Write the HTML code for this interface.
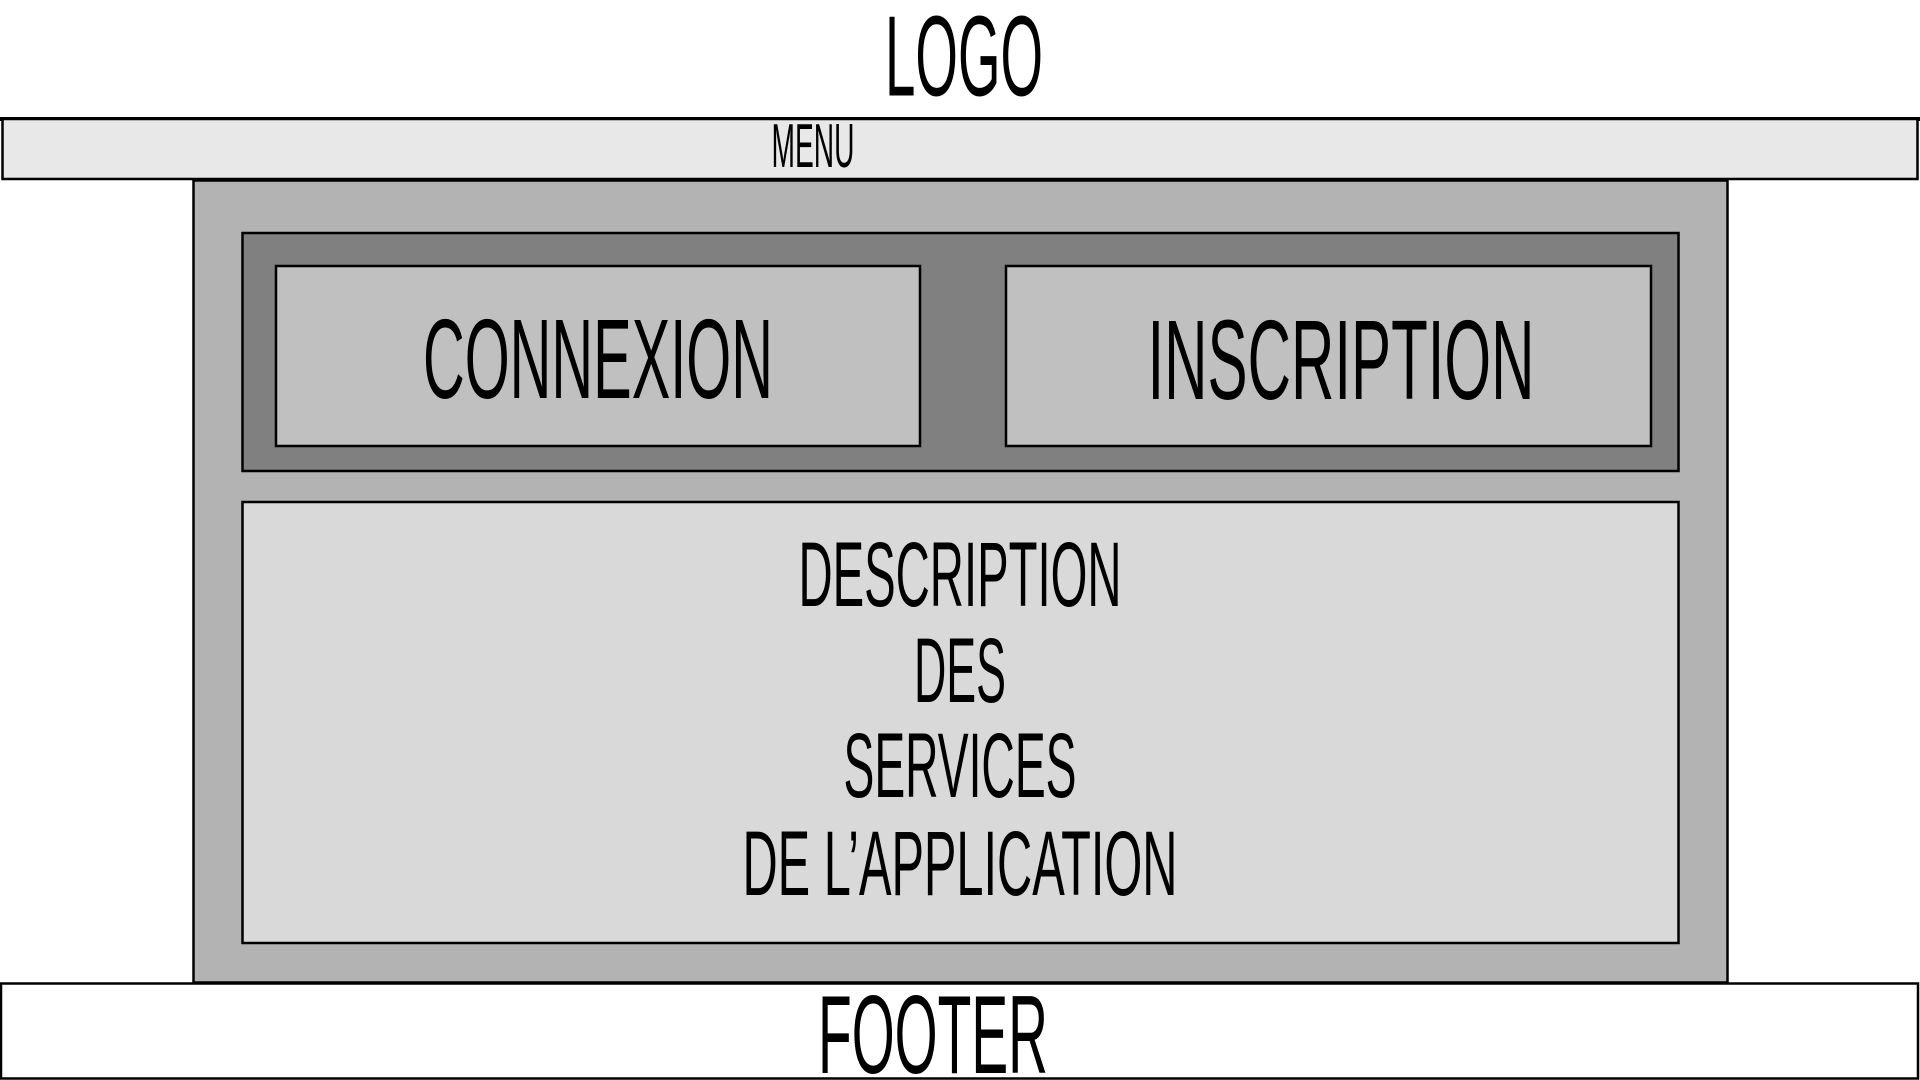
<!DOCTYPE html>
<html>
<head>
<meta charset="utf-8">
<style>
html,body{margin:0;padding:0;background:#fff;width:1920px;height:1080px;overflow:hidden;}
svg{display:block;}
text{font-family:"Liberation Sans Narrow","Liberation Sans",sans-serif;fill:#000;}
</style>
</head>
<body>
<svg width="1920" height="1080" viewBox="0 0 1920 1080" xmlns="http://www.w3.org/2000/svg">
  <rect x="0" y="0" width="1920" height="1080" fill="#fff"/>
  <!-- Logo -->
  <text x="964" y="95.5" font-size="114" text-anchor="middle" textLength="158" lengthAdjust="spacingAndGlyphs">LOGO</text>
  <line x1="0" y1="119" x2="1920" y2="119" stroke="#000" stroke-width="4"/>
  <!-- Menu -->
  <rect x="2.5" y="119" width="1915" height="60" fill="#e8e8e8" stroke="#000" stroke-width="2.5"/>
  <text x="813" y="167" font-size="62" text-anchor="middle" textLength="83" lengthAdjust="spacingAndGlyphs">MENU</text>
  <!-- Main -->
  <rect x="193.5" y="180.5" width="1534" height="802" fill="#b3b3b3" stroke="#000" stroke-width="2.5"/>
  <rect x="242.5" y="233" width="1436" height="238" fill="#808080" stroke="#000" stroke-width="2.5"/>
  <rect x="276" y="266" width="644" height="180" fill="#c0c0c0" stroke="#000" stroke-width="2.5"/>
  <text x="598" y="398" font-size="113" text-anchor="middle" textLength="350" lengthAdjust="spacingAndGlyphs">CONNEXION</text>
  <rect x="1006" y="266" width="645" height="180" fill="#c0c0c0" stroke="#000" stroke-width="2.5"/>
  <text x="1341" y="399" font-size="113" text-anchor="middle" textLength="387" lengthAdjust="spacingAndGlyphs">INSCRIPTION</text>
  <!-- Description -->
  <rect x="242.5" y="502" width="1436" height="441" fill="#d9d9d9" stroke="#000" stroke-width="2.5"/>
  <text x="960" y="606" font-size="92" text-anchor="middle" textLength="323" lengthAdjust="spacingAndGlyphs">DESCRIPTION</text>
  <text x="960" y="702" font-size="92" text-anchor="middle" textLength="92" lengthAdjust="spacingAndGlyphs">DES</text>
  <text x="960" y="797" font-size="92" text-anchor="middle" textLength="233" lengthAdjust="spacingAndGlyphs">SERVICES</text>
  <text x="960" y="895" font-size="92" text-anchor="middle" textLength="435" lengthAdjust="spacingAndGlyphs">DE L’APPLICATION</text>
  <!-- Footer -->
  <rect x="1" y="983.5" width="1917" height="95" fill="#fff" stroke="#000" stroke-width="2.5"/>
  <text x="933" y="1073" font-size="111" text-anchor="middle" textLength="230" lengthAdjust="spacingAndGlyphs">FOOTER</text>
</svg>
</body>
</html>
